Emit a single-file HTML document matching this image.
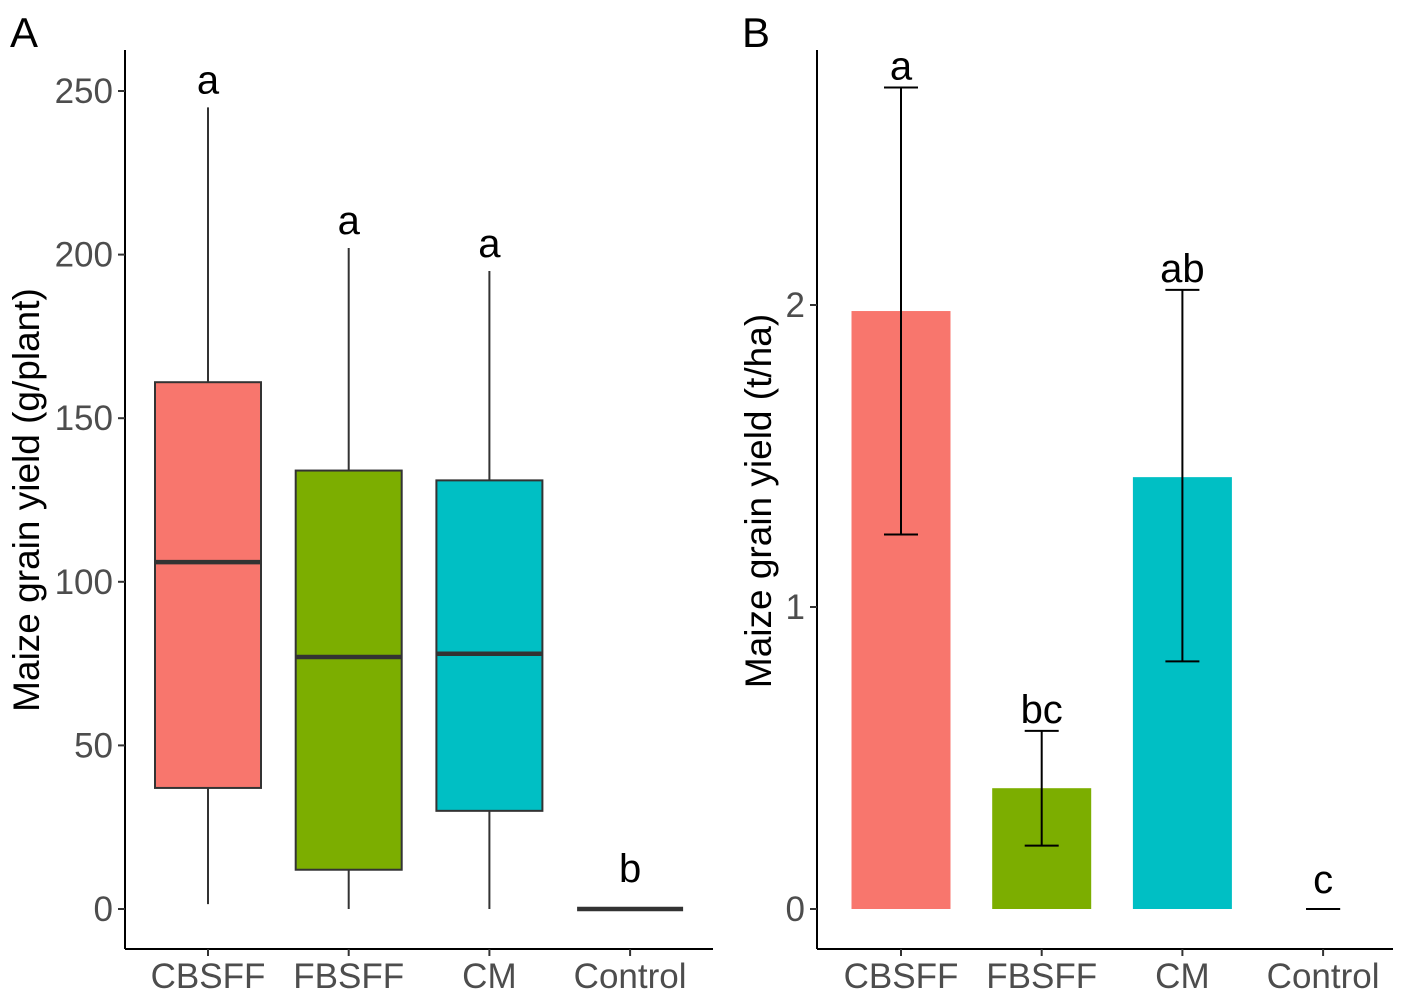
<!DOCTYPE html>
<html><head><meta charset="utf-8"><style>
body{margin:0;background:#fff;}
svg{display:block;font-family:"Liberation Sans",sans-serif;}
</style></head><body>
<svg id="chart" width="1418" height="998" viewBox="0 0 1418 998"></svg>
<script>
const catsA=["CBSFF","FBSFF","CM","Control"];
const q1A=[37,12,30,0];
const medA=[106,77,78,0];
const q3A=[161,134,131,0];
const loA=[1.5,0,0,0];
const hiA=[245,202,195,0];
const lettersA=["a","a","a","b"];
const ticksA=[0,50,100,150,200,250];
const colors=["#F8766D","#7CAE00","#00BFC4","#C77CFF"];

const catsB=["CBSFF","FBSFF","CM","Control"];
const meanB=[1.98,0.40,1.43,0];
const errLoB=[1.24,0.21,0.82,0];
const errHiB=[2.72,0.59,2.05,0];
const lettersB=["a","bc","ab","c"];
const ticksB=[0,1,2];

const svg=document.getElementById('chart');
const NS="http://www.w3.org/2000/svg";
const TICK=35, TITLE=37, LET=40;
function el(tag,attrs,parent,text){const e=document.createElementNS(NS,tag);for(const k in attrs)e.setAttribute(k,attrs[k]);if(text!==undefined)e.textContent=text;(parent||svg).appendChild(e);return e;}

// Panel A
const yA=v=>909-v*(818/250);
const xA=i=>208+i*140.7;
const gA=el('g',{});


let t=el('text',{x:10,y:47,'font-size':42,fill:'#000'},gA,'A');

let ax=el('line',{x1:125,y1:50,x2:125,y2:949,stroke:'#000','stroke-width':2},gA);

ax=el('line',{x1:125,y1:949,x2:713,y2:949,stroke:'#000','stroke-width':2},gA);

ticksA.forEach(v=>{
  el('line',{x1:118,y1:yA(v),x2:125,y2:yA(v),stroke:'#333','stroke-width':2},gA);
  const tl=el('text',{x:113,y:yA(v)+12,'font-size':TICK,fill:'#4d4d4d','text-anchor':'end'},gA,String(v));
  
});
t=el('text',{x:0,y:0,'font-size':TITLE,fill:'#000','text-anchor':'middle',transform:'translate(39,500) rotate(-90)'},gA,'Maize grain yield (g/plant)');

catsA.forEach((c,i)=>{
  const x=xA(i),w=106;
  el('line',{x1:x,y1:949,x2:x,y2:956,stroke:'#333','stroke-width':2},gA);
  const tl=el('text',{x:x,y:988,'font-size':TICK,fill:'#4d4d4d','text-anchor':'middle'},gA,c);
  
  const wl=el('line',{x1:x,y1:yA(loA[i]),x2:x,y2:yA(hiA[i]),stroke:'#333','stroke-width':2},gA);
  
  if(q3A[i]>q1A[i]){
    const b=el('rect',{x:x-w/2,y:yA(q3A[i]),width:w,height:yA(q1A[i])-yA(q3A[i]),fill:colors[i],stroke:'#333','stroke-width':2},gA);
    
  }
  const m=el('line',{x1:x-w/2,y1:yA(medA[i]),x2:x+w/2,y2:yA(medA[i]),stroke:'#333','stroke-width':4.5},gA);
  
  const off=hiA[i]>0?14:27;
  const lt=el('text',{x:x,y:yA(hiA[i])-off,'font-size':LET,fill:'#000','text-anchor':'middle'},gA,lettersA[i]);
  
});

// Panel B
const yB=v=>909-v*302;
const xB=i=>901+i*140.7;
const gB=el('g',{});


t=el('text',{x:742,y:47,'font-size':42,fill:'#000'},gB,'B');

ax=el('line',{x1:817,y1:50,x2:817,y2:949,stroke:'#000','stroke-width':2},gB);

ax=el('line',{x1:817,y1:949,x2:1393,y2:949,stroke:'#000','stroke-width':2},gB);

ticksB.forEach(v=>{
  el('line',{x1:810,y1:yB(v),x2:817,y2:yB(v),stroke:'#333','stroke-width':2},gB);
  const tl=el('text',{x:805,y:yB(v)+12,'font-size':TICK,fill:'#4d4d4d','text-anchor':'end'},gB,String(v));
  
});
t=el('text',{x:0,y:0,'font-size':TITLE,fill:'#000','text-anchor':'middle',transform:'translate(771,501) rotate(-90)'},gB,'Maize grain yield (t/ha)');

catsB.forEach((c,i)=>{
  const x=xB(i),w=99;
  el('line',{x1:x,y1:949,x2:x,y2:956,stroke:'#333','stroke-width':2},gB);
  const tl=el('text',{x:x,y:988,'font-size':TICK,fill:'#4d4d4d','text-anchor':'middle'},gB,c);
  
  if(meanB[i]>0){
    const b=el('rect',{x:x-w/2,y:yB(meanB[i]),width:w,height:yB(0)-yB(meanB[i]),fill:colors[i]},gB);
    
  }
  const eg=el('g',{stroke:'#000','stroke-width':2},gB);
  
  el('line',{x1:x,y1:yB(errLoB[i]),x2:x,y2:yB(errHiB[i])},eg);
  el('line',{x1:x-17,y1:yB(errLoB[i]),x2:x+17,y2:yB(errLoB[i])},eg);
  el('line',{x1:x-17,y1:yB(errHiB[i]),x2:x+17,y2:yB(errHiB[i])},eg);
  const off=errHiB[i]>0?8:16;
  const lt=el('text',{x:x,y:yB(errHiB[i])-off,'font-size':LET,fill:'#000','text-anchor':'middle'},gB,lettersB[i]);
  
});
</script>
</body></html>
